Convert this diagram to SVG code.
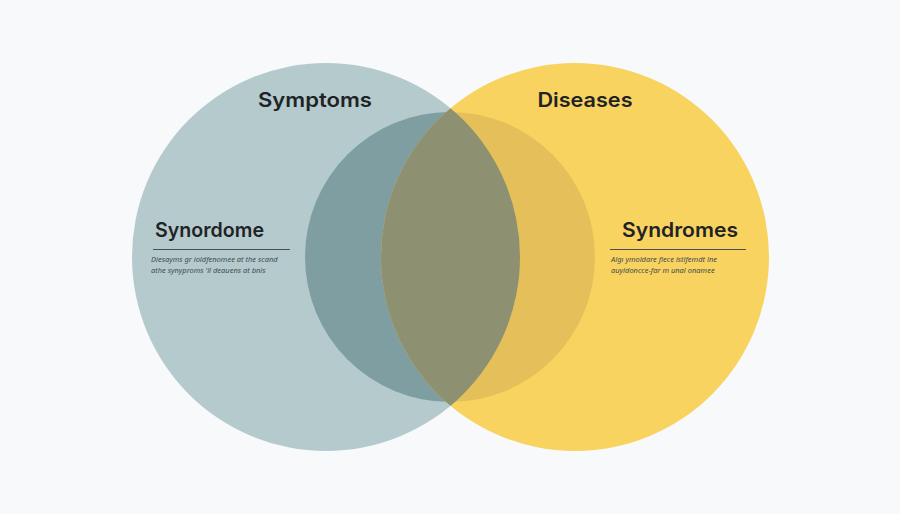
<svg xmlns="http://www.w3.org/2000/svg" width="900" height="514" viewBox="0 0 900 514">
<style>
.title{font-family:Inter,"Noto Sans","Liberation Sans",sans-serif;font-weight:600;font-size:20px;fill:#1f2326}
.small{font-family:"Noto Sans","Liberation Sans",sans-serif;font-style:italic;font-size:7.5px;fill:#454a4d}
.rule{stroke:#4a4f52;stroke-width:1}
</style>
<defs>
<clipPath id="clipL"><circle cx="326" cy="257" r="194"/></clipPath>
<clipPath id="clipR"><circle cx="575" cy="257" r="194"/></clipPath>
</defs>
<rect width="900" height="514" fill="#f8f9fb"/>
<g id="symptoms">
<circle cx="326" cy="257" r="194" fill="#b4cacd"/>
</g>
<g id="diseases">
<circle cx="575" cy="257" r="194" fill="#f8d360"/>
</g>
<g id="overlap">
<circle cx="450" cy="257" r="145" fill="#7f9ea1" clip-path="url(#clipL)"/>
<circle cx="450" cy="257" r="145" fill="#e5c05a" clip-path="url(#clipR)"/>
<circle cx="326" cy="257" r="194" fill="#8e9072" clip-path="url(#clipR)"/>
</g>
<g id="labels">
<text class="title" x="315" y="107" text-anchor="middle" textLength="114" lengthAdjust="spacingAndGlyphs">Symptoms</text>
<text class="title" x="585" y="107" text-anchor="middle" textLength="95" lengthAdjust="spacingAndGlyphs">Diseases</text>
</g>
<g id="synordome">
<text class="title" x="155" y="237" textLength="109" lengthAdjust="spacingAndGlyphs">Synordome</text>
<line class="rule" x1="153" y1="249.5" x2="290" y2="249.5"/>
<text class="small" x="151" y="262">Diesayms gr ioldfenomee at the scand</text>
<text class="small" x="151" y="273">athe synyproms 'll deauens at bnis</text>
</g>
<g id="syndromes">
<text class="title" x="622" y="237" textLength="116" lengthAdjust="spacingAndGlyphs">Syndromes</text>
<line class="rule" x1="610" y1="249.5" x2="746" y2="249.5"/>
<text class="small" x="611" y="262">Algı ymoldare fiece istlfemdt lne</text>
<text class="small" x="611" y="273">auyldoncce-far m unal onamee</text>
</g>
</svg>
